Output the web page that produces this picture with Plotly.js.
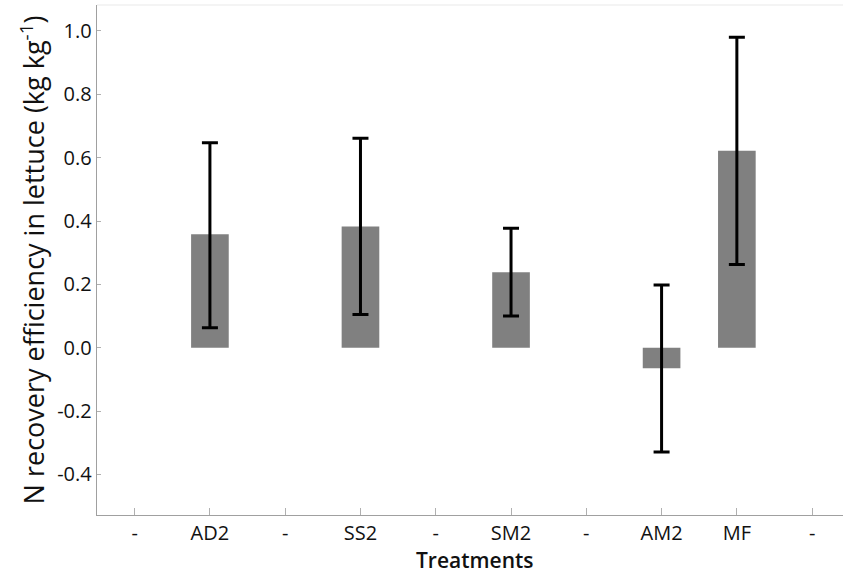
<!DOCTYPE html>
<html>
<head>
<meta charset="utf-8">
<script src="https://cdn.plot.ly/plotly-3.0.1.min.js"></script>
<style>html,body{margin:0;padding:0;background:#fff;}#chart{width:843px;height:577px;}</style>
</head>
<body>
<div id="chart"></div>
<script>
// Category slots along the x axis (duplicated "-" placeholders)
const tickLabels = ["-", "AD2", "-", "SS2", "-", "SM2", "-", "AM2", "MF", "-"];
// Treatments with data
const treatments = ["AD2", "SS2", "SM2", "AM2", "MF"];
const means = [0.358, 0.383, 0.238, -0.065, 0.622];
const errUpper = [0.647, 0.661, 0.377, 0.198, 0.980];
const errLower = [0.063, 0.105, 0.100, -0.329, 0.263];
const yTickVals = [-0.4, -0.2, 0.0, 0.2, 0.4, 0.6, 0.8, 1.0];
const yTickText = ["-0.4", "-0.2", "0.0", "0.2", "0.4", "0.6", "0.8", "1.0"];
const xTitle = "Treatments";
const yTitle = "N recovery efficiency in lettuce (kg kg<sup>-1</sup>)";

const slotIndex = tickLabels.map((_, i) => i);
const xPos = treatments.map(t => tickLabels.indexOf(t));
const plus = means.map((m, i) => errUpper[i] - m);
const minus = means.map((m, i) => m - errLower[i]);

const trace = {
  type: "bar",
  x: xPos,
  y: means,
  width: 0.5,
  marker: {color: "#808080", line: {width: 0}},
  error_y: {
    type: "data", symmetric: false,
    array: plus, arrayminus: minus,
    color: "#000000", thickness: 3, width: 8
  },
  hoverinfo: "skip"
};

const font = "'Open Sans', 'Noto Sans', sans-serif";
const txt = "#111111";
const layout = {
  width: 843, height: 577,
  margin: {l: 97, r: 0, t: 5, b: 62},
  paper_bgcolor: "#ffffff", plot_bgcolor: "#ffffff",
  showlegend: false,
  font: {family: font, color: txt, size: 20},
  xaxis: {
    range: [-0.5, 9.41],
    tickvals: slotIndex, ticktext: tickLabels,
    showgrid: false, zeroline: false,
    showline: true, linecolor: "#a0a0a0", linewidth: 1.3,
    ticks: "inside", ticklen: 7, tickcolor: "#b0b0b0", tickwidth: 1,
    tickfont: {family: font, size: 20, color: txt}
  },
  yaxis: {
    range: [-0.528, 1.082],
    tickvals: yTickVals, ticktext: yTickText,
    showgrid: false, zeroline: false,
    showline: true, linecolor: "#a0a0a0", linewidth: 1.3,
    ticks: "inside", ticklen: 4, tickcolor: "#b0b0b0", tickwidth: 1,
    tickfont: {family: font, size: 20, color: txt},
    title: {text: yTitle, font: {family: font, size: 27, color: txt}, standoff: 4}
  },
  annotations: [{
    text: xTitle, xref: "paper", yref: "paper", x: 0.507, y: 0,
    xanchor: "center", yanchor: "middle", yshift: -45, showarrow: false,
    font: {family: font, size: 21, color: txt, weight: 600}
  }],
  shapes: [{
    type: "line", xref: "paper", yref: "paper", x0: 0, x1: 1, y0: 1, y1: 1,
    line: {color: "#f0f0f0", width: 1.5}
  }]
};

Plotly.newPlot("chart", [trace], layout, {displayModeBar: false, staticPlot: true});
</script>
</body>
</html>
